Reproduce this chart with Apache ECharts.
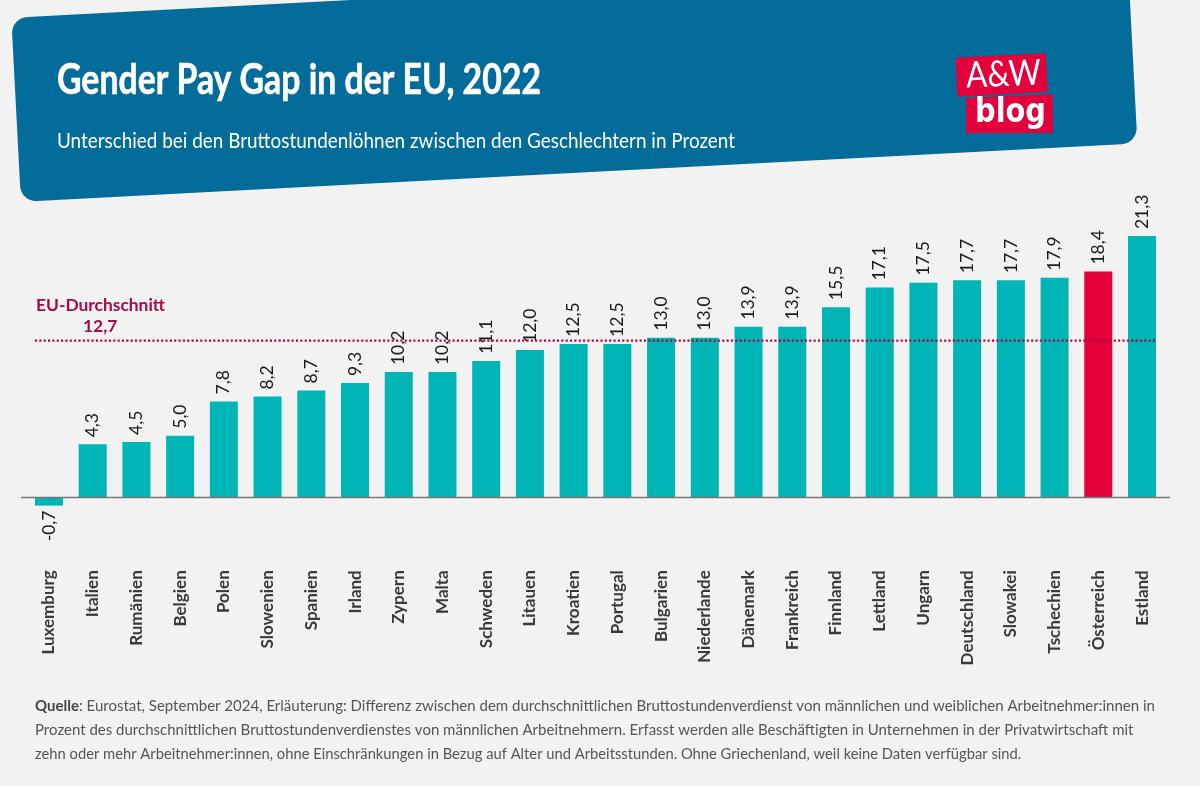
<!DOCTYPE html>
<html>
<head>
<meta charset="utf-8">
<title>Gender Pay Gap in der EU, 2022</title>
<style>
  html, body { margin: 0; padding: 0; background: #f2f2f2; }
  #chart { width: 1200px; height: 786px; }
</style>
<script src="https://cdn.jsdelivr.net/npm/echarts@6/dist/echarts.min.js"></script>
</head>
<body>
<div id="chart"></div>
<script>
const countries = ['Luxemburg', 'Italien', 'Rumänien', 'Belgien', 'Polen', 'Slowenien', 'Spanien', 'Irland', 'Zypern', 'Malta', 'Schweden', 'Litauen', 'Kroatien', 'Portugal', 'Bulgarien', 'Niederlande', 'Dänemark', 'Frankreich', 'Finnland', 'Lettland', 'Ungarn', 'Deutschland', 'Slowakei', 'Tschechien', 'Österreich', 'Estland'];
const gap = [-0.7, 4.3, 4.5, 5.0, 7.8, 8.2, 8.7, 9.3, 10.2, 10.2, 11.1, 12.0, 12.5, 12.5, 13.0, 13.0, 13.9, 13.9, 15.5, 17.1, 17.5, 17.7, 17.7, 17.9, 18.4, 21.3];
const highlight = 'Österreich';
const euAverage = 12.7;
const titleText = 'Gender Pay Gap in der EU, 2022';
const subtitleText = 'Unterschied bei den Bruttostundenlöhnen zwischen den Geschlechtern in Prozent';
const noteLines = [
  '{b|Quelle}: Eurostat, September 2024, Erläuterung: Differenz zwischen dem durchschnittlichen Bruttostundenverdienst von männlichen und weiblichen Arbeitnehmer:innen in',
  'Prozent des durchschnittlichen Bruttostundenverdienstes von männlichen Arbeitnehmern. Erfasst werden alle Beschäftigten in Unternehmen in der Privatwirtschaft mit',
  'zehn oder mehr Arbeitnehmer:innen, ohne Einschränkungen in Bezug auf Alter und Arbeitsstunden. Ohne Griechenland, weil keine Daten verfügbar sind.'
];
const noteScale = [0.968, 0.968, 0.951];

const BAR_W = 28;
const bodyFont = 'Lato';
const chart = echarts.init(document.getElementById('chart'));
const measure = document.createElement('canvas').getContext('2d');

function comma(v) {
  return v.toFixed(1).replace('.', ',');
}

// horizontal squeeze so a line of text ends where it does in the original
function fit(text, font, width) {
  measure.font = font;
  return width / measure.measureText(text).width;
}

// zero line and EU line, both run past the first and last bar
function renderRefLine(params, api) {
  const v = api.value(1);
  const isZero = v === 0;
  const ext = isZero ? BAR_W : BAR_W / 2;
  const a = api.coord([0, v]);
  const b = api.coord([countries.length - 1, v]);
  return {
    type: 'line',
    y: isZero ? 0.4 : -0.9,
    shape: { x1: a[0] - ext, y1: a[1], x2: b[0] + ext, y2: b[1] },
    style: isZero
      ? { stroke: '#777', lineWidth: 1.5 }
      : { stroke: '#a50a45', lineWidth: 2.2, lineDash: [2.1, 2.25] }
  };
}

const titleFont = 'bold 42px Lato';
const subFont = '22px Lato';
const awFont = '36px Lato';
const blogFont = 'bold 34px "DejaVu Sans"';

const graphics = [
  { type: 'rect', x: 11.3, y: 17.8, rotation: 0.0524, z: 1,
    shape: { x: 0, y: 0, width: 1118, height: 184.4, r: 16 },
    style: { fill: '#046c9a' } },
  { type: 'polygon', z: 2, shape: { points: [[955.7, 57.7], [1045.7, 53.3], [1047.7, 91.7], [957.3, 96.7]] }, style: { fill: '#e4003a' } },
  { type: 'polygon', z: 2, shape: { points: [[966.3, 98], [1052.7, 94], [1053, 133], [966, 133]] }, style: { fill: '#e4003a' } },
  { type: 'text', x: 966, y: 76, z: 3, rotation: 0.04, scaleX: fit('A&W', awFont, 75),
    style: { text: 'A&W', font: awFont, fill: '#fff', verticalAlign: 'middle' } },
  { type: 'text', x: 975, y: 113, z: 3, scaleX: fit('blog', blogFont, 71),
    style: { text: 'blog', font: blogFont, fill: '#fff', verticalAlign: 'middle' } },
  { type: 'text', x: 57, y: 80, z: 3, scaleX: fit(titleText, titleFont, 484),
    style: { text: titleText, font: titleFont, fill: '#fff', stroke: '#fff', lineWidth: 0.6, verticalAlign: 'middle' } },
  { type: 'text', x: 57, y: 141, z: 3, scaleX: fit(subtitleText, subFont, 678),
    style: { text: subtitleText, font: subFont, fill: '#fff', verticalAlign: 'middle' } },
  { type: 'text', x: 36, y: 305, z: 3,
    style: { text: 'EU-Durchschnitt', font: 'bold 17.4px ' + bodyFont, fill: '#a50a45', verticalAlign: 'middle' } },
  { type: 'text', x: 83, y: 326, z: 3,
    style: { text: comma(euAverage), font: 'bold 17.4px ' + bodyFont, fill: '#a50a45', verticalAlign: 'middle' } }
];

noteLines.forEach(function (line, i) {
  graphics.push({
    type: 'text', x: 35, y: 706 + i * 24, z: 3, scaleX: noteScale[i],
    style: {
      text: line, fontFamily: bodyFont, fontSize: 15.5, fill: '#555', verticalAlign: 'middle',
      rich: { b: { fontFamily: bodyFont, fontSize: 15.5, fontWeight: 'bold', fill: '#444' } }
    }
  });
});

chart.setOption({
  backgroundColor: '#f2f2f2',
  animation: false,
  grid: { left: 27.1, width: 1136.8, top: 190.75, height: 367.5 },
  xAxis: {
    type: 'category',
    data: countries,
    axisLine: { show: false },
    axisTick: { show: false },
    axisLabel: { rotate: 90, interval: 0, margin: 12, fontFamily: bodyFont, fontSize: 17, fontWeight: 'bold', color: '#3a3a3a' }
  },
  yAxis: { type: 'value', min: -5, max: 25, show: false },
  graphic: graphics,
  series: [
    {
      type: 'bar',
      barWidth: BAR_W,
      data: gap.map(function (v, i) {
        return {
          value: v,
          itemStyle: { color: countries[i] === highlight ? '#e4003a' : '#00b5b5' },
          label: v < 0
            ? { position: 'bottom', align: 'right', verticalAlign: 'middle' }
            : { position: 'top', align: 'left', verticalAlign: 'middle' }
        };
      }),
      label: {
        show: true,
        rotate: 90,
        distance: 6,
        offset: [1, 0],
        fontFamily: bodyFont,
        fontSize: 17.5,
        color: '#1a1a1a',
        formatter: function (p) { return comma(p.value); }
      }
    },
    {
      type: 'custom',
      renderItem: renderRefLine,
      silent: true,
      z: 5,
      data: [[0, 0], [0, euAverage]]
    }
  ]
});
</script>
</body>
</html>
